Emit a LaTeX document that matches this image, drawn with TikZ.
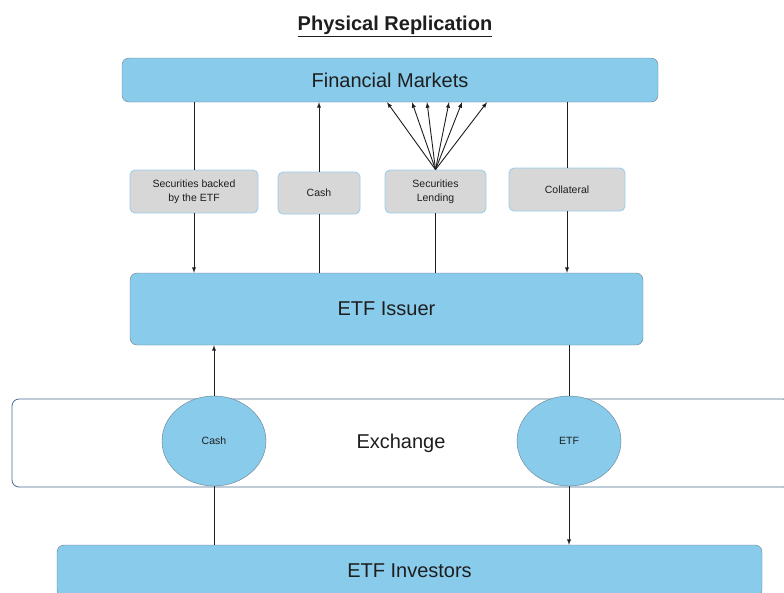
\documentclass[tikz,border=0pt]{standalone}
\usepackage{fontspec}
\setmainfont{Liberation Sans}
\usetikzlibrary{shapes.geometric}
\definecolor{etfblue}{RGB}{137,203,235}
\definecolor{etfedge}{RGB}{105,125,140}
\definecolor{itemgray}{RGB}{215,215,215}
\definecolor{itemedge}{RGB}{150,205,235}
\definecolor{exedge}{RGB}{70,110,145}
\definecolor{ink}{RGB}{30,30,30}
\begin{document}
\begin{tikzpicture} [
		x = 1pt,
		y = -1pt,
		party/.style = {
			rectangle,
			rounded corners = 7pt,
			draw = etfedge,
			fill = etfblue,
			inner sep = 0pt,
			text = ink,
			font = \fontsize{20}{24}\selectfont,
		},
		item/.style = {
			rectangle,
			rounded corners = 5pt,
			draw = itemedge,
			thick,
			fill = itemgray,
			inner sep = 0pt,
			align = center,
			text = ink,
			font = \fontsize{10.5}{14}\selectfont,
		},
		token/.style = {
			ellipse,
			draw = etfedge,
			fill = etfblue,
			minimum width = 104pt,
			minimum height = 90pt,
			inner sep = 0pt,
			text = ink,
			font = \fontsize{10.5}{12}\selectfont,
		},
		line/.style = {
			draw = ink,
			line width = 0.9pt,
			->,
			>=latex,
		},
	]

	\useasboundingbox (0,0) rectangle (784,592);
	\clip (0,0) rectangle (784,592);

	\node[text = ink, font = \fontsize{20}{24}\selectfont\bfseries] (title) at (395,26) {\underline{Physical Replication}};

	\node[party, minimum width = 536pt, minimum height = 44pt] (markets) at (390,80) {Financial Markets};

	\node[item, minimum width = 128pt, minimum height = 43pt] (backed) at (194,191.5) {Securities backed\\by the ETF};
	\node[item, minimum width = 82pt, minimum height = 42pt] (cashbox) at (319,193) {Cash};
	\node[item, minimum width = 101pt, minimum height = 43pt] (lending) at (435.5,191.5) {Securities\\Lending};
	\node[item, minimum width = 116pt, minimum height = 43pt] (collateral) at (567,189.5) {Collateral};

	\node[party, minimum width = 513pt, minimum height = 72pt] (issuer) at (386.5,309) {ETF Issuer};

	\node[party, fill = white, draw = exedge, thick, minimum width = 778pt, minimum height = 88pt] (exchange) at (401,443) {Exchange};
	\node[token] (cash) at (214,441) {Cash};
	\node[token] (etf) at (569,441) {ETF};

	\node[party, minimum width = 705pt, minimum height = 52pt] (investors) at (409.5,571) {ETF Investors};

	\begin{scope} [
		every path/.style = line
		]
		\path[-] (backed.north) -- (backed.north |- markets.south);
		\path (backed.south) -- (backed.south |- issuer.north);

		\path (cashbox.north) -- (cashbox.north |- markets.south);
		\path[-] (cashbox.south |- issuer.north) -- (cashbox.south);

		% securities lent out to several borrowers
		\foreach \dx in {-48.5,-23.5,-8.5,13.5,26.5,51.5}
			\path (lending.north) -- ([xshift = \dx pt]lending.north |- markets.south);
		\path[-] (lending.south |- issuer.north) -- (lending.south);

		\path[-] (collateral.north) -- (collateral.north |- markets.south);
		\path (collateral.south) -- (collateral.south |- issuer.north);

		\path (cash.north) -- (cash.north |- issuer.south);
		\path[-] (cash.south) -- (cash.south |- investors.north);

		\path[-] (etf.north) -- (etf.north |- issuer.south);
		\path (etf.south) -- (etf.south |- investors.north);
	\end{scope}
\end{tikzpicture}
\end{document}
